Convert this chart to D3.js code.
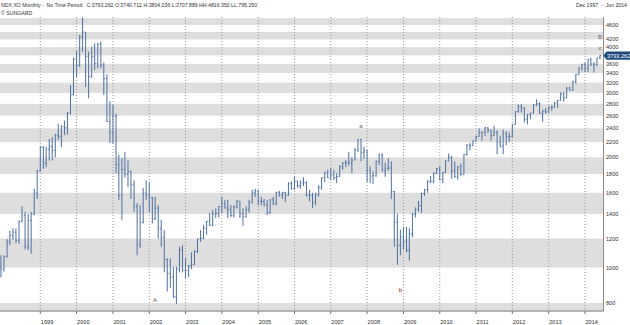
<!DOCTYPE html>
<html><head><meta charset="utf-8">
<script src="https://cdn.jsdelivr.net/npm/d3@7"></script>
<style>
html,body{margin:0;padding:0;background:#fff;}
svg{display:block;font-family:"Liberation Sans",Arial,sans-serif;}
</style></head>
<body>
<div id="chart"></div>
<script>
// ---- DATA (monthly OHLC, Dec 1997 .. Jun 2014) ----
const firstMonth = "1997-12";
const lastMonth = "2014-06";
const opens = [1005,
 991,1071,1176,1221,1249,1186,1337,1390,1140,1345,1400,1597,
 1836,2128,1930,2106,2138,2091,2297,2281,2426,2408,2637,2966,
 3708,3570,4266,4397,3774,3324,3763,3609,4077,3571,3283,2506,
 2341,2593,1908,1573,1855,1799,1830,1683,1469,1154,1330,1596,
 1577,1550,1359,1452,1277,1209,1051,962,942,832,989,1116,
 984,981,1010,1018,1106,1198,1201,1280,1336,1304,1400,1404,
 1468,1494,1454,1439,1386,1462,1517,1401,1375,1441,1503,1599,
 1621,1519,1515,1483,1415,1531,1494,1605,1579,1601,1575,1693,
 1645,1719,1673,1703,1704,1579,1575,1507,1581,1654,1760,1812,
 1757,1788,1759,1772,1884,1929,1935,1931,1966,2091,2239,2061,
 2085,1842,1779,1781,1949,2030,1838,1867,1871,1613,1329,1149,
 1212,1176,1114,1237,1399,1443,1477,1594,1632,1720,1720,1808,
 1860,1741,1819,1957,2002,1839,1770,1888,1798,2036,2160,2153,
 2218,2282,2345,2339,2409,2373,2292,2339,2203,2148,2325,2283,
 2278,2461,2670,2755,2723,2540,2616,2640,2786,2800,2635,2677,
 2661,2731,2739,2819,2863,2983,2910,3092,3053,3218,3371,3511,
 3592,3506,3701,3596,3585,3740.712];
const highs = [1080,
 1080,1195,1260,1280,1280,1345,1470,1420,1400,1420,1640,1850,
 2150,2145,2140,2245,2270,2320,2470,2450,2520,2660,3150,3750,
 3900,4320,4816.35,4400,3890,4010,4100,4110,4140,3630,3380,2850,
 2780,2630,2030,1990,2070,1960,1840,1730,1500,1480,1650,1730,
 1710,1560,1560,1480,1350,1265,1060,1060,1005,1005,1140,1150,
 1060,1015,1100,1115,1200,1265,1305,1340,1410,1435,1450,1470,
 1560,1530,1530,1480,1480,1530,1520,1450,1470,1530,1630,1640,
 1625,1560,1540,1530,1540,1560,1610,1620,1610,1610,1710,1720,
 1770,1730,1730,1765,1720,1630,1600,1600,1680,1765,1825,1850,
 1870,1850,1810,1905,1940,1965,2070,2000,2120,2240,2240,2140,
 2090,1890,1830,1960,2050,2050,1935,1990,1950,1620,1400,1270,
 1290,1290,1280,1410,1460,1520,1600,1640,1730,1780,1820,1870,
 1890,1820,1960,2050,2020,1950,1890,1920,2040,2170,2190,2225,
 2290,2400,2350,2420,2420,2380,2440,2370,2290,2380,2360,2340,
 2465,2675,2790,2795,2740,2630,2650,2790,2880,2830,2700,2730,
 2760,2780,2830,2870,3010,3020,3110,3120,3240,3380,3520,3600,
 3630,3710,3740,3640,3740,3804.036];
const lows = [940,
 975,1065,1150,1190,1165,1160,1330,1120,1115,1090,1390,1540,
 1830,1860,1880,1960,1960,2000,2230,2130,2300,2310,2620,2950,
 3310,3530,3890,3110,2900,3300,3460,3500,3500,2960,2500,2190,
 2180,1810,1530,1350,1760,1660,1540,1420,1080,1130,1320,1530,
 1420,1320,1350,1200,1140,970,860,880,825,795.25,970,970,
 935,940,990,1015,1095,1175,1195,1230,1300,1295,1365,1370,
 1410,1450,1365,1375,1370,1450,1365,1300,1370,1410,1500,1560,
 1480,1480,1470,1390,1400,1480,1480,1560,1540,1510,1570,1630,
 1630,1650,1640,1670,1560,1515,1455,1480,1560,1630,1710,1755,
 1735,1735,1700,1770,1850,1880,1900,1810,1965,2070,1950,1980,
 1710,1700,1690,1770,1905,1830,1770,1840,1540,1140,1018,1080,
 1120,1100,1043,1210,1370,1420,1410,1570,1600,1700,1700,1800,
 1730,1700,1815,1950,1750,1760,1740,1780,1795,2020,2090,2150,
 2210,2280,2220,2290,2330,2220,2290,2040,2130,2040,2160,2200,
 2270,2455,2650,2650,2490,2460,2540,2630,2760,2630,2500,2630,
 2650,2680,2730,2730,2860,2840,2900,3040,3040,3180,3360,3450,
 3420,3420,3550,3410,3550,3707.889];
const closes = [991,
 1071,1176,1221,1249,1186,1337,1390,1140,1345,1400,1597,1836,
 2128,1930,2106,2138,2091,2297,2281,2426,2408,2637,2966,3708,
 3570,4266,4397,3774,3324,3763,3609,4077,3571,3283,2506,2341,
 2593,1908,1573,1855,1799,1830,1683,1469,1154,1330,1596,1577,
 1550,1359,1452,1277,1209,1051,962,942,832,989,1116,984,
 981,1010,1018,1106,1198,1201,1280,1336,1304,1400,1404,1468,
 1494,1454,1439,1386,1462,1517,1401,1375,1441,1503,1599,1621,
 1519,1515,1483,1415,1531,1494,1605,1579,1601,1575,1693,1645,
 1719,1673,1703,1704,1579,1575,1507,1581,1654,1760,1812,1757,
 1788,1759,1772,1884,1929,1935,1931,1966,2091,2239,2061,2085,
 1842,1779,1781,1949,2030,1838,1867,1871,1613,1329,1149,1212,
 1176,1114,1237,1399,1443,1477,1594,1632,1720,1720,1808,1860,
 1741,1819,1957,2002,1839,1770,1888,1798,2036,2160,2153,2218,
 2282,2345,2339,2409,2373,2292,2339,2203,2148,2325,2283,2278,
 2461,2670,2755,2723,2540,2616,2640,2786,2800,2635,2677,2661,
 2731,2739,2819,2863,2983,2910,3092,3053,3218,3371,3511,3592,
 3506,3701,3596,3585,3736,3793.262];

const yTickValues = [800,1000,1200,1400,1600,1800,2000,2200,2400,2600,2800,3000,3200,3400,3600,4000,4200,4600];
const bandStarts = [600,1000,1400,1800,2200,2600,3000,3400,3800,4200,4600];
const bandSize = 200;
const yearTicks = ["1999","2000","2001","2002","2003","2004","2005","2006","2007","2008","2009","2010","2011","2012","2013","2014"];
const titleText = "NDX.XO Monthly -  No Time Period   C:3793.262 O:3740.712 H:3804.036 L:3707.889 HH:4816.350 LL:795.250";
const sourceText = "\u00A9 SUNGARD";
const rangeText = "Dec 1997  -  Jun 2014";
const annotations = [
  {label:"A", month:"2002-03", value:815, color:"#555"},
  {label:"a", month:"2007-11", value:2435, color:"#666"},
  {label:"b", month:"2008-12", value:868, color:"#8b2a2a"},
  {label:"B", month:"2014-06", value:4260, color:"#666"},
  {label:"c", month:"2014-06", value:3985, color:"#666"}
];

// ---- LAYOUT ----
const W = 630, H = 325;
const plot = {left:0, right:603, top:17, bottom:310.5};
const parseM = d3.timeParse("%Y-%m");
const months = d3.timeMonth.range(parseM(firstMonth), d3.timeMonth.offset(parseM(lastMonth),1));
const data = months.map((d,i)=>({date:d, o:opens[i], h:highs[i], l:lows[i], c:closes[i]}));

const x = d3.scaleTime()
  .domain([parseM("1999-01"), parseM("2014-01")])
  .range([40.3, 585]);
const y = d3.scaleLog()
  .domain([763, 4836])
  .range([plot.bottom, plot.top]);

const svg = d3.select("#chart").append("svg")
  .attr("width", W).attr("height", H);

svg.append("rect").attr("width",W).attr("height",H).attr("fill","#fff");

svg.append("clipPath").attr("id","clip").append("rect")
  .attr("x",plot.left).attr("y",plot.top)
  .attr("width",plot.right-plot.left).attr("height",plot.bottom-plot.top);

const g = svg.append("g").attr("clip-path","url(#clip)");

// bands
g.selectAll("rect.band").data(bandStarts).join("rect")
  .attr("class","band")
  .attr("x",plot.left).attr("width",plot.right-plot.left)
  .attr("y",d=>y(d+bandSize))
  .attr("height",d=>y(d)-y(d+bandSize))
  .attr("fill","#dedede");

// vertical dotted year gridlines
const yearDates = yearTicks.map(t=>d3.timeParse("%Y")(t));
g.selectAll("line.grid").data(yearDates).join("line")
  .attr("x1",d=>x(d)).attr("x2",d=>x(d))
  .attr("y1",plot.top).attr("y2",plot.bottom)
  .attr("stroke","#9a9a9a").attr("stroke-width",1)
  .attr("stroke-dasharray","1,2");

// OHLC bars
const barColor = "#4c70a0";
const bars = g.selectAll("g.bar").data(data).join("g").attr("class","bar");
bars.append("line")
  .attr("x1",d=>x(d.date)).attr("x2",d=>x(d.date))
  .attr("y1",d=>y(d.h)).attr("y2",d=>y(d.l))
  .attr("stroke",barColor).attr("stroke-width",1);
bars.append("line")
  .attr("x1",d=>x(d.date)-1).attr("x2",d=>x(d.date))
  .attr("y1",d=>y(d.o)).attr("y2",d=>y(d.o))
  .attr("stroke",barColor).attr("stroke-width",1);
bars.append("line")
  .attr("x1",d=>x(d.date)).attr("x2",d=>x(d.date)+1)
  .attr("y1",d=>y(d.c)).attr("y2",d=>y(d.c))
  .attr("stroke",barColor).attr("stroke-width",1);

// annotations
svg.selectAll("text.ann").data(annotations).join("text")
  .attr("x",d=>x(parseM(d.month)))
  .attr("y",d=>y(d.value))
  .attr("text-anchor","middle")
  .attr("dominant-baseline","central")
  .attr("font-size",6)
  .attr("fill",d=>d.color)
  .text(d=>d.label);

// bottom axis
svg.append("line")
  .attr("x1",plot.left).attr("x2",plot.right+0.5)
  .attr("y1",311).attr("y2",311)
  .attr("stroke","#707070").attr("stroke-width",1);
svg.selectAll("line.xt").data(yearDates).join("line")
  .attr("x1",d=>x(d)).attr("x2",d=>x(d))
  .attr("y1",311).attr("y2",314)
  .attr("stroke","#707070");
svg.selectAll("text.xl").data(yearDates).join("text")
  .attr("x",d=>x(d)+0.5).attr("y",323.5)
  .attr("font-size",5.6).attr("fill","#333")
  .text((d,i)=>yearTicks[i]);

// right axis
svg.append("line")
  .attr("x1",plot.right+0.5).attr("x2",plot.right+0.5)
  .attr("y1",plot.top).attr("y2",311)
  .attr("stroke","#8a8a8a").attr("stroke-width",1);
svg.selectAll("text.yl").data(yTickValues).join("text")
  .attr("x",606).attr("y",d=>y(d))
  .attr("dominant-baseline","central")
  .attr("font-size",5.6).attr("fill","#333")
  .text(d=>d);

// last price marker
const last = data[data.length-1];
const ly = y(last.c);
svg.append("path")
  .attr("d",`M${plot.right+0.5},${ly} L${plot.right+3.5},${ly-4.2} L630,${ly-4.2} L630,${ly+4.2} L${plot.right+3.5},${ly+4.2} Z`)
  .attr("fill","#1d4b7a");
svg.append("text")
  .attr("x",607).attr("y",ly)
  .attr("dominant-baseline","central")
  .attr("font-size",5.6).attr("fill","#fff")
  .text(d3.format(".3f")(last.c));

// header
svg.append("text").attr("x",1).attr("y",7.3)
  .attr("font-size",5.2).attr("fill","#333")
  .style("white-space","pre")
  .text(titleText);
svg.append("text").attr("x",1).attr("y",15.3)
  .attr("font-size",5.2).attr("fill","#333")
  .text(sourceText);
svg.append("text").attr("x",627).attr("y",7.3)
  .attr("text-anchor","end")
  .attr("font-size",5.2).attr("fill","#333")
  .style("white-space","pre")
  .text(rangeText);
</script>
</body></html>
